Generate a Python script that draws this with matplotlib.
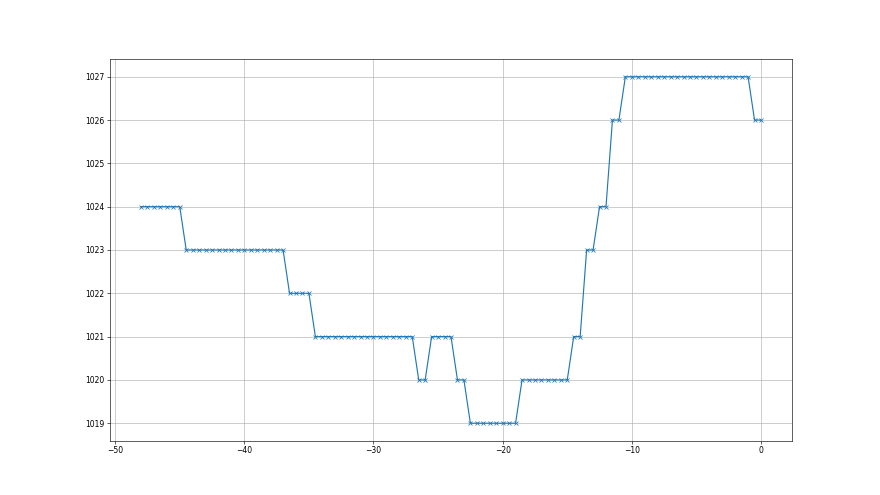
import numpy as np
import matplotlib.pyplot as plt

# pressure readings, one every half step from -48 to 0
t = np.arange(-48, 0.25, 0.5)
pressure = ([1024] * 7 + [1023] * 16 + [1022] * 4 + [1021] * 16 +
            [1020] * 2 + [1021] * 4 + [1020] * 2 + [1019] * 8 +
            [1020] * 8 + [1021] * 2 + [1023] * 2 + [1024] * 2 +
            [1026] * 2 + [1027] * 20 + [1026] * 2)

fig = plt.figure(figsize=(16, 9), dpi=55)
ax = fig.add_subplot(111)
ax.plot(t, pressure, marker='x')
ax.grid(True)
ax.ticklabel_format(useOffset=False)

fig.savefig('out.png', dpi=55)
